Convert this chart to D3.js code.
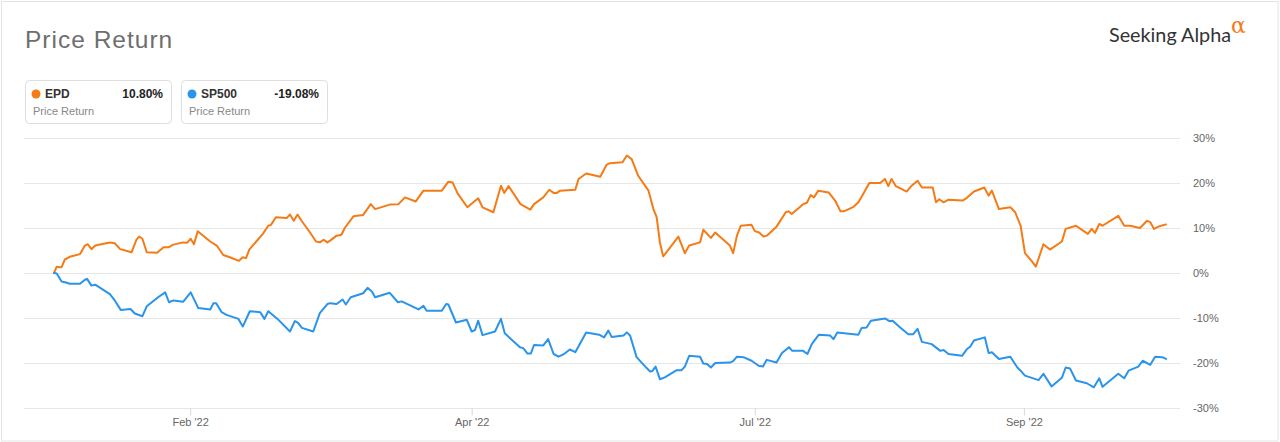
<!DOCTYPE html>
<html>
<head>
<meta charset="utf-8">
<script src="https://cdn.jsdelivr.net/npm/d3@7"></script>
<style>
  html, body { margin: 0; padding: 0; background: #fff; }
  svg { display: block; font-family: "Liberation Sans", Arial, sans-serif; }
</style>
</head>
<body>
<svg id="chart" width="1280" height="442"></svg>
<script>
// ---- data (x = trading-session index from start of period, y = % price return) ----
const seriesNames = ["EPD", "SP500"];
const seriesColors = ["#f47b16", "#2a93ea"];
const finalValues = ["10.80%", "-19.08%"];

const epdSession = [0,0.5,1.0,1.4,2.0,2.9,4.8,5.7,6.2,6.9,7.6,10.3,11.2,12.2,14.3,15.2,15.7,16.3,17.1,19.0,20.2,21.1,22.0,23.8,24.5,25.2,25.8,26.5,27.5,28.8,30.0,31.2,32.4,34.1,34.8,35.4,36.0,38.5,39.5,40.0,40.9,42.9,43.5,44.2,44.9,45.7,47.2,48.3,49.0,49.7,50.4,
  50.9,52.1,53.0,53.6,55.2,57.0,58.4,59.2,61.9,63.5,64.7,66.7,68.1,71.5,72.7,73.5,74.4,76.2,78.2,79.0,81.0,82.4,83.0,83.8,86.0,87.8,88.5,90.2,91.3,92.1,92.7,93.3,96.1,96.7,98.1,100.7,101.9,102.5,104.8,105.6,
  106.5,107.7,109.6,110.5,111.1,111.7,112.3,113.6,115.1,116.3,117.1,119.1,119.7,121.1,121.9,123.4,124.6,125.2,125.9,126.6,128.6,129.2,130.0,130.8,131.4,133.2,134.9,135.4,136.0,138.1,138.8,139.5,140.1,140.9,142.8,144.0,145.0,145.6,147.4,148.3,149.2,150.3,152.3,153.2,153.8,154.4,155.2,157.2,158.1,159.2,
  160.0,162.0,162.6,163.2,164.0,164.9,167.5,168.3,169.6,171.5,172.3,172.9,174.2,176.3,177.2,178.2,179.0,180.3,181.0,182.4,183.6,185.8,186.5,188.4,189.5,190.6,191.3,191.9,192.7,193.3,196.2,197.3,198.4,200.2,201.5,202.1,202.8,203.8,205.0];
const epdReturn = [0,1.4,1.3,1.3,3.0,3.6,4.2,6.1,6.4,5.3,6.1,6.8,6.6,5.3,4.6,7.4,8.1,7.6,4.6,4.5,5.7,5.7,6.3,6.8,6.7,7.6,6.4,9.3,8.3,7.0,6.1,4.0,3.5,2.7,3.5,3.3,5.2,8.7,10.5,10.7,12.4,12.2,13.0,11.6,13.0,11.5,9.0,7.0,6.8,7.4,6.8,
  7.2,8.3,8.5,10.0,12.6,12.9,15.3,14.2,15.2,15.3,16.8,15.9,18.3,18.3,20.3,20.1,17.7,14.6,16.6,14.6,13.5,19.4,17.8,19.3,15.3,14.1,15.3,16.8,18.5,17.8,17.8,18.3,18.5,20.9,22.1,21.4,24.1,24.4,24.6,26.1,
  25.3,21.6,18.3,14.2,12.4,6.8,3.7,5.7,8.1,4.4,6.1,6.8,9.6,7.8,9.0,7.4,6.1,4.4,8.3,10.5,10.7,9.3,9.0,8.1,8.3,10.3,13.5,13.7,13.1,15.3,15.6,17.3,16.8,18.3,17.9,16.1,13.7,13.7,14.7,15.7,17.6,20.0,20.0,20.9,19.3,20.9,19.3,18.1,19.4,20.5,
  19.0,19.0,15.7,16.4,15.7,16.3,16.1,16.7,18.1,19.0,17.2,18.3,14.2,14.6,13.5,10.5,4.4,2.6,1.4,6.4,5.2,7.0,9.8,10.5,9.6,8.7,9.8,8.9,10.9,10.5,12.7,10.5,10.5,10.0,11.6,11.3,9.8,10.4,10.8];

const spSession = [0,0.5,1.4,2.2,2.9,4.8,5.7,6.1,6.9,7.6,10.3,11.2,12.3,14.1,14.9,16.3,17.1,19.2,20.5,21.2,22.0,23.8,25.2,26.6,28.8,29.4,29.9,30.9,31.8,34.0,34.8,36.1,38.0,38.8,39.5,41.2,43.5,44.4,45.0,45.7,47.8,49.0,50.4,
  50.9,52.1,53.2,53.8,54.7,57.0,57.8,58.6,59.2,61.9,63.4,64.1,67.2,68.1,68.7,71.5,72.3,72.7,74.1,76.1,77.0,77.6,78.2,79.0,81.3,82.4,83.1,85.9,86.5,87.3,87.9,88.5,90.2,91.1,92.1,93.0,93.9,95.1,96.1,98.1,100.5,101.4,102.2,102.8,105.0,105.6,
  106.2,107.4,109.0,109.9,110.3,110.9,111.7,112.6,114.8,115.7,116.3,117.1,119.1,119.7,120.4,121.1,121.9,124.6,125.2,125.9,127.1,128.6,129.9,130.7,131.4,133.2,134.2,135.5,136.1,138.1,138.9,139.7,141.0,143.1,143.7,144.4,148.3,148.9,149.8,150.6,153.2,154.0,154.6,156.0,157.5,158.4,159.2,
  160.0,161.8,163.4,164.0,164.9,167.4,168.3,168.9,169.6,171.6,172.3,172.9,174.2,176.3,177.6,178.1,179.0,181.5,182.4,183.9,185.8,186.5,187.3,188.4,190.4,191.7,192.7,193.3,196.2,197.3,198.1,199.9,200.7,202.1,203.0,204.3,205.0];
const spReturn = [0,-0.1,-1.9,-2.1,-2.4,-2.4,-1.5,-1.3,-2.8,-2.6,-4.7,-6.1,-8.2,-8.0,-9.0,-9.6,-7.4,-5.4,-4.3,-6.5,-6.1,-6.4,-4.3,-7.8,-8.1,-6.7,-6.7,-8.7,-9.3,-10.2,-11.9,-8.5,-8.7,-10.2,-8.5,-10.2,-13.0,-10.7,-11.1,-12.2,-13.0,-8.9,-6.9,
  -6.7,-6.9,-5.9,-7.0,-5.4,-4.5,-3.3,-4.1,-5.4,-4.4,-6.5,-6.3,-8.1,-7.3,-8.4,-8.4,-6.9,-7.0,-11.0,-10.4,-13.0,-12.7,-10.6,-13.8,-13.0,-10.2,-13.4,-16.5,-16.7,-17.9,-17.9,-16.0,-16.1,-14.7,-18.0,-18.6,-18.1,-17.0,-17.6,-13.2,-13.7,-14.3,-12.8,-14.2,-13.9,-13.2,
  -13.9,-18.7,-20.8,-21.9,-21.8,-20.8,-23.6,-23.2,-21.6,-21.6,-20.8,-18.4,-18.6,-20.1,-20.2,-21.0,-20.0,-19.9,-19.6,-18.6,-18.7,-19.5,-20.6,-20.8,-19.3,-19.9,-17.8,-16.5,-17.3,-17.3,-18.0,-15.8,-13.7,-13.9,-14.7,-13.2,-13.7,-12.2,-12.1,-10.6,-10.1,-10.7,-10.6,-12.1,-13.6,-13.6,-12.4,
  -15.3,-15.8,-17.3,-17.1,-18.0,-18.4,-16.9,-16.4,-15.0,-14.3,-17.8,-17.6,-19.1,-18.6,-21.0,-21.6,-22.8,-23.8,-22.4,-25.2,-23.3,-21.0,-21.2,-23.9,-24.5,-25.4,-23.4,-25.3,-22.4,-23.4,-21.7,-20.8,-19.5,-20.4,-18.6,-18.7,-19.08];

const yTicks = [30, 20, 10, 0, -10, -20, -30];
const xTickSessions = [25.1, 77.0, 129.2, 178.8];
const xTickLabels = ["Feb '22", "Apr '22", "Jul '22", "Sep '22"];

// ---- drawing ----
const W = 1280, H = 442;
const svg = d3.select("#chart");

// outer frame
svg.append("rect").attr("x", 1.5).attr("y", 1.5).attr("width", W - 3.5).attr("height", H - 2.5)
  .attr("fill", "#fff").attr("stroke", "#e3e3e3").attr("stroke-width", 1);

// title
svg.append("text").attr("x", 25).attr("y", 47.5).text("Price Return")
  .attr("font-size", 24.5).attr("fill", "#6e6e6e").attr("letter-spacing", 1);

// Seeking Alpha logo
svg.append("text").attr("x", 1109).attr("y", 41.5).text("Seeking Alpha")
  .attr("font-family", "Lato, 'Open Sans', sans-serif").attr("font-size", 19.8).attr("fill", "#333");
svg.append("text").attr("x", 1231).attr("y", 32.5).text("\u03b1")
  .attr("font-family", "'DejaVu Serif', serif").attr("font-size", 22).attr("fill", "#f47b16");

// legend boxes
const legendX = [25, 181];
const legendW = 147;
seriesNames.forEach((name, i) => {
  const g = svg.append("g").attr("transform", `translate(${legendX[i]},80)`);
  g.append("rect").attr("x", 0.5).attr("y", 0.5).attr("width", legendW - 1).attr("height", 43)
    .attr("rx", 4).attr("fill", "#fff").attr("stroke", "#dedede");
  g.append("circle").attr("cx", 11).attr("cy", 14).attr("r", 4.5).attr("fill", seriesColors[i]);
  g.append("text").attr("x", 20).attr("y", 18.3).text(name)
    .attr("font-size", 12).attr("font-weight", "bold").attr("fill", "#333");
  g.append("text").attr("x", 138).attr("y", 18.3).attr("text-anchor", "end").text(finalValues[i])
    .attr("font-size", 12).attr("font-weight", "bold").attr("fill", "#222");
  g.append("text").attr("x", 8).attr("y", 35).text("Price Return")
    .attr("font-size", 11).attr("fill", "#888");
});

// scales
const x = d3.scaleLinear().domain([0, 205]).range([54, 1166]);
const y = d3.scaleLinear().domain([-30, 30]).range([408, 138]);
const gridLeft = 24, gridRight = 1180;

// grid lines
svg.append("g").selectAll("line").data(yTicks).join("line")
  .attr("x1", gridLeft).attr("x2", gridRight)
  .attr("y1", d => Math.round(y(d)) + 0.5).attr("y2", d => Math.round(y(d)) + 0.5)
  .attr("stroke", "#e6e6e6").attr("stroke-width", 1);

// right y-axis labels
svg.append("g").selectAll("text").data(yTicks).join("text")
  .attr("x", 1193).attr("y", d => y(d) + 4)
  .text(d => d + "%").attr("font-size", 11).attr("fill", "#666");

// x-axis ticks
const xAxis = d3.axisBottom(x).tickValues(xTickSessions)
  .tickFormat((d, i) => xTickLabels[i]).tickSize(7).tickSizeOuter(0);
const gx = svg.append("g").attr("transform", `translate(0,${Math.round(y(-30)) + 0.5})`).call(xAxis);
gx.select(".domain").remove();
gx.selectAll(".tick line").attr("stroke", "#d8d8d8");
gx.selectAll(".tick text").attr("font-size", 11).attr("fill", "#666")
  .attr("font-family", "'Liberation Sans', Arial, sans-serif").attr("dy", "0.71em");

// lines
const line = d3.line().x(d => x(d[0])).y(d => y(d[1]));
const series = [
  d3.zip(epdSession, epdReturn),
  d3.zip(spSession, spReturn)
];
series.forEach((pts, i) => {
  svg.append("path").datum(pts).attr("d", line)
    .attr("fill", "none").attr("stroke", seriesColors[i]).attr("stroke-width", 2)
    .attr("stroke-linejoin", "round").attr("stroke-linecap", "round");
});
</script>
</body>
</html>
